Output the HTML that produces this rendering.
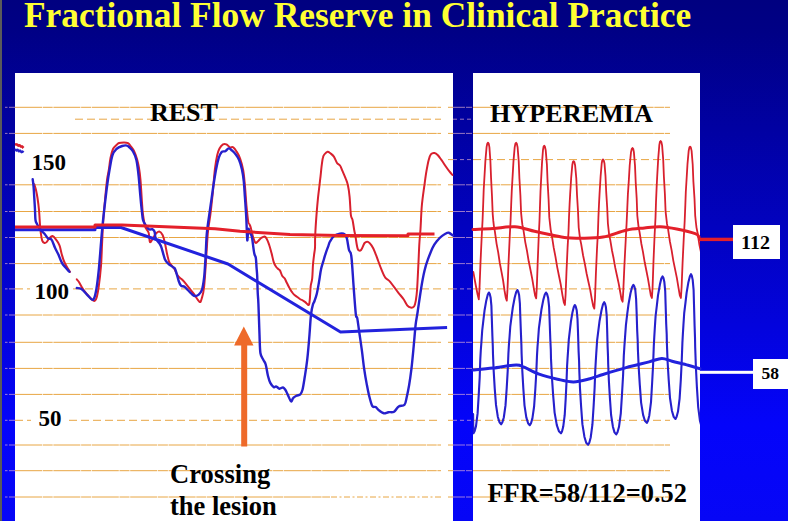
<!DOCTYPE html>
<html><head><meta charset="utf-8"><title>Fractional Flow Reserve in Clinical Practice</title>
<style>
html,body{margin:0;padding:0}
body{width:788px;height:521px;overflow:hidden;position:relative;
background:linear-gradient(to bottom,#000080 0px,#000085 30px,#0404fa 425px,#0606f6 521px);
font-family:"Liberation Serif","Times New Roman",serif;}
.strip{position:absolute;left:0;top:0;width:2px;height:521px;background:#5a5a5a}
h1{position:absolute;left:24px;top:-6px;margin:0;font-size:36px;font-weight:bold;color:#ffff33;white-space:nowrap;letter-spacing:0;transform:scaleX(0.983);transform-origin:0 0}
.panel{position:absolute;top:73px;background:#fff}
#pl{left:15px;width:438px;height:448px}
#pr{left:473px;width:227px;height:448px}
svg{position:absolute;left:0;top:0}
.t{position:absolute;font-weight:bold;color:#000;white-space:nowrap;line-height:1}
.box{position:absolute;background:#fff}
</style></head><body>
<div class="strip"></div>
<h1>Fractional Flow Reserve in Clinical Practice</h1>
<div class="panel" id="pl"></div>
<div class="panel" id="pr"></div>
<div class="box" style="left:733px;top:225px;width:47px;height:33.5px"></div>
<div class="box" style="left:753px;top:358.5px;width:35px;height:30.2px"></div>
<svg width="788" height="521" viewBox="0 0 788 521"><defs><clipPath id="cr"><rect x="473" y="73" width="227" height="448"/></clipPath></defs>
<line x1="5" y1="107.3" x2="15" y2="107.3" stroke="rgba(255,200,210,0.6)" stroke-width="1" stroke-dasharray="2.5 1.5 7"/>
<line x1="15" y1="107.3" x2="441" y2="107.3" stroke="#e8a644" stroke-width="1" stroke-dasharray="27 0.7 10 0.7"/>
<line x1="448" y1="107.3" x2="453" y2="107.3" stroke="#e8a644" stroke-width="1"/>
<line x1="453" y1="107.3" x2="473" y2="107.3" stroke="rgba(255,200,210,0.6)" stroke-width="1" stroke-dasharray="12 1 6 1"/>
<line x1="473" y1="107.3" x2="670" y2="107.3" stroke="#e8a644" stroke-width="1" stroke-dasharray="27 0.7 10 0.7"/>
<line x1="5" y1="133.4" x2="15" y2="133.4" stroke="rgba(255,200,210,0.6)" stroke-width="1" stroke-dasharray="2.5 1.5 7"/>
<line x1="15" y1="133.4" x2="441" y2="133.4" stroke="#e8a644" stroke-width="1" stroke-dasharray="27 0.7 10 0.7"/>
<line x1="448" y1="133.4" x2="453" y2="133.4" stroke="#e8a644" stroke-width="1"/>
<line x1="453" y1="133.4" x2="473" y2="133.4" stroke="rgba(255,200,210,0.6)" stroke-width="1" stroke-dasharray="12 1 6 1"/>
<line x1="473" y1="133.4" x2="670" y2="133.4" stroke="#e8a644" stroke-width="1" stroke-dasharray="27 0.7 10 0.7"/>
<line x1="448" y1="159.6" x2="453" y2="159.6" stroke="#e8a644" stroke-width="1"/>
<line x1="453" y1="159.6" x2="473" y2="159.6" stroke="rgba(255,200,210,0.6)" stroke-width="1" stroke-dasharray="4 3"/>
<line x1="473" y1="159.6" x2="670" y2="159.6" stroke="#e8a644" stroke-width="1" stroke-dasharray="8 4"/>
<line x1="5" y1="184.8" x2="15" y2="184.8" stroke="rgba(255,200,210,0.6)" stroke-width="1" stroke-dasharray="2.5 1.5 7"/>
<line x1="15" y1="184.8" x2="441" y2="184.8" stroke="#e8a644" stroke-width="1" stroke-dasharray="27 0.7 10 0.7"/>
<line x1="448" y1="184.8" x2="453" y2="184.8" stroke="#e8a644" stroke-width="1"/>
<line x1="453" y1="184.8" x2="473" y2="184.8" stroke="rgba(255,200,210,0.6)" stroke-width="1" stroke-dasharray="12 1 6 1"/>
<line x1="473" y1="184.8" x2="670" y2="184.8" stroke="#e8a644" stroke-width="1" stroke-dasharray="27 0.7 10 0.7"/>
<line x1="5" y1="211.5" x2="15" y2="211.5" stroke="rgba(255,200,210,0.6)" stroke-width="1" stroke-dasharray="2.5 1.5 7"/>
<line x1="15" y1="211.5" x2="441" y2="211.5" stroke="#e8a644" stroke-width="1" stroke-dasharray="27 0.7 10 0.7"/>
<line x1="448" y1="211.5" x2="453" y2="211.5" stroke="#e8a644" stroke-width="1"/>
<line x1="453" y1="211.5" x2="473" y2="211.5" stroke="rgba(255,200,210,0.6)" stroke-width="1" stroke-dasharray="12 1 6 1"/>
<line x1="473" y1="211.5" x2="670" y2="211.5" stroke="#e8a644" stroke-width="1" stroke-dasharray="27 0.7 10 0.7"/>
<line x1="5" y1="237.5" x2="15" y2="237.5" stroke="rgba(255,200,210,0.6)" stroke-width="1" stroke-dasharray="2.5 1.5 7"/>
<line x1="15" y1="237.5" x2="441" y2="237.5" stroke="#e8a644" stroke-width="1" stroke-dasharray="27 0.7 10 0.7"/>
<line x1="448" y1="237.5" x2="453" y2="237.5" stroke="#e8a644" stroke-width="1"/>
<line x1="453" y1="237.5" x2="473" y2="237.5" stroke="rgba(255,200,210,0.6)" stroke-width="1" stroke-dasharray="12 1 6 1"/>
<line x1="473" y1="237.5" x2="670" y2="237.5" stroke="#e8a644" stroke-width="1" stroke-dasharray="27 0.7 10 0.7"/>
<line x1="5" y1="263.6" x2="15" y2="263.6" stroke="rgba(255,200,210,0.6)" stroke-width="1" stroke-dasharray="2.5 1.5 7"/>
<line x1="15" y1="263.6" x2="441" y2="263.6" stroke="#e8a644" stroke-width="1" stroke-dasharray="27 0.7 10 0.7"/>
<line x1="448" y1="263.6" x2="453" y2="263.6" stroke="#e8a644" stroke-width="1"/>
<line x1="453" y1="263.6" x2="473" y2="263.6" stroke="rgba(255,200,210,0.6)" stroke-width="1" stroke-dasharray="12 1 6 1"/>
<line x1="473" y1="263.6" x2="670" y2="263.6" stroke="#e8a644" stroke-width="1" stroke-dasharray="27 0.7 10 0.7"/>
<line x1="5" y1="288.9" x2="15" y2="288.9" stroke="rgba(255,200,210,0.6)" stroke-width="1" stroke-dasharray="2.5 1.5 7"/>
<line x1="15" y1="288.9" x2="30" y2="288.9" stroke="#e8a644" stroke-width="1" stroke-dasharray="8 4"/>
<line x1="73" y1="288.9" x2="441" y2="288.9" stroke="#e8a644" stroke-width="1" stroke-dasharray="8 4"/>
<line x1="448" y1="288.9" x2="453" y2="288.9" stroke="#e8a644" stroke-width="1"/>
<line x1="453" y1="288.9" x2="473" y2="288.9" stroke="rgba(255,200,210,0.6)" stroke-width="1" stroke-dasharray="4 3"/>
<line x1="473" y1="288.9" x2="670" y2="288.9" stroke="#e8a644" stroke-width="1" stroke-dasharray="8 4"/>
<line x1="5" y1="315.0" x2="15" y2="315.0" stroke="rgba(255,200,210,0.6)" stroke-width="1" stroke-dasharray="2.5 1.5 7"/>
<line x1="15" y1="315.0" x2="441" y2="315.0" stroke="#e8a644" stroke-width="1" stroke-dasharray="27 0.7 10 0.7"/>
<line x1="448" y1="315.0" x2="453" y2="315.0" stroke="#e8a644" stroke-width="1"/>
<line x1="453" y1="315.0" x2="473" y2="315.0" stroke="rgba(255,200,210,0.6)" stroke-width="1" stroke-dasharray="12 1 6 1"/>
<line x1="473" y1="315.0" x2="670" y2="315.0" stroke="#e8a644" stroke-width="1" stroke-dasharray="27 0.7 10 0.7"/>
<line x1="5" y1="342.3" x2="15" y2="342.3" stroke="rgba(255,200,210,0.6)" stroke-width="1" stroke-dasharray="2.5 1.5 7"/>
<line x1="15" y1="342.3" x2="441" y2="342.3" stroke="#e8a644" stroke-width="1" stroke-dasharray="27 0.7 10 0.7"/>
<line x1="448" y1="342.3" x2="453" y2="342.3" stroke="#e8a644" stroke-width="1"/>
<line x1="453" y1="342.3" x2="473" y2="342.3" stroke="rgba(255,200,210,0.6)" stroke-width="1" stroke-dasharray="12 1 6 1"/>
<line x1="473" y1="342.3" x2="670" y2="342.3" stroke="#e8a644" stroke-width="1" stroke-dasharray="27 0.7 10 0.7"/>
<line x1="5" y1="368.4" x2="15" y2="368.4" stroke="rgba(255,200,210,0.6)" stroke-width="1" stroke-dasharray="2.5 1.5 7"/>
<line x1="15" y1="368.4" x2="441" y2="368.4" stroke="#e8a644" stroke-width="1" stroke-dasharray="27 0.7 10 0.7"/>
<line x1="448" y1="368.4" x2="453" y2="368.4" stroke="#e8a644" stroke-width="1"/>
<line x1="453" y1="368.4" x2="473" y2="368.4" stroke="rgba(255,200,210,0.6)" stroke-width="1" stroke-dasharray="12 1 6 1"/>
<line x1="473" y1="368.4" x2="670" y2="368.4" stroke="#e8a644" stroke-width="1" stroke-dasharray="27 0.7 10 0.7"/>
<line x1="5" y1="394.4" x2="15" y2="394.4" stroke="rgba(255,200,210,0.6)" stroke-width="1" stroke-dasharray="2.5 1.5 7"/>
<line x1="15" y1="394.4" x2="441" y2="394.4" stroke="#e8a644" stroke-width="1" stroke-dasharray="27 0.7 10 0.7"/>
<line x1="448" y1="394.4" x2="453" y2="394.4" stroke="#e8a644" stroke-width="1"/>
<line x1="453" y1="394.4" x2="473" y2="394.4" stroke="rgba(255,200,210,0.6)" stroke-width="1" stroke-dasharray="12 1 6 1"/>
<line x1="473" y1="394.4" x2="670" y2="394.4" stroke="#e8a644" stroke-width="1" stroke-dasharray="27 0.7 10 0.7"/>
<line x1="5" y1="420.3" x2="15" y2="420.3" stroke="rgba(255,200,210,0.6)" stroke-width="1" stroke-dasharray="2.5 1.5 7"/>
<line x1="15" y1="420.3" x2="31" y2="420.3" stroke="#e8a644" stroke-width="1" stroke-dasharray="8 4"/>
<line x1="69" y1="420.3" x2="441" y2="420.3" stroke="#e8a644" stroke-width="1" stroke-dasharray="8 4"/>
<line x1="448" y1="420.3" x2="453" y2="420.3" stroke="#e8a644" stroke-width="1"/>
<line x1="453" y1="420.3" x2="473" y2="420.3" stroke="rgba(255,200,210,0.6)" stroke-width="1" stroke-dasharray="4 3"/>
<line x1="473" y1="420.3" x2="670" y2="420.3" stroke="#e8a644" stroke-width="1" stroke-dasharray="8 4"/>
<line x1="5" y1="445.0" x2="15" y2="445.0" stroke="rgba(255,200,210,0.6)" stroke-width="1" stroke-dasharray="2.5 1.5 7"/>
<line x1="15" y1="445.0" x2="441" y2="445.0" stroke="#e8a644" stroke-width="1" stroke-dasharray="27 0.7 10 0.7"/>
<line x1="448" y1="445.0" x2="453" y2="445.0" stroke="#e8a644" stroke-width="1"/>
<line x1="453" y1="445.0" x2="473" y2="445.0" stroke="rgba(255,200,210,0.6)" stroke-width="1" stroke-dasharray="12 1 6 1"/>
<line x1="473" y1="445.0" x2="670" y2="445.0" stroke="#e8a644" stroke-width="1" stroke-dasharray="27 0.7 10 0.7"/>
<line x1="5" y1="470.7" x2="15" y2="470.7" stroke="rgba(255,200,210,0.6)" stroke-width="1" stroke-dasharray="2.5 1.5 7"/>
<line x1="15" y1="470.7" x2="441" y2="470.7" stroke="#e8a644" stroke-width="1" stroke-dasharray="27 0.7 10 0.7"/>
<line x1="448" y1="470.7" x2="453" y2="470.7" stroke="#e8a644" stroke-width="1"/>
<line x1="453" y1="470.7" x2="473" y2="470.7" stroke="rgba(255,200,210,0.6)" stroke-width="1" stroke-dasharray="12 1 6 1"/>
<line x1="473" y1="470.7" x2="670" y2="470.7" stroke="#e8a644" stroke-width="1" stroke-dasharray="27 0.7 10 0.7"/>
<line x1="5" y1="497.0" x2="15" y2="497.0" stroke="rgba(255,200,210,0.6)" stroke-width="1" stroke-dasharray="2.5 1.5 7"/>
<line x1="15" y1="497.0" x2="330" y2="497.0" stroke="#e8a644" stroke-width="1" stroke-dasharray="27 0.7 10 0.7"/>
<line x1="331" y1="497.0" x2="441" y2="497.0" stroke="#e8a644" stroke-width="1" stroke-dasharray="6 2.5 2 2.5"/>
<line x1="448" y1="497.0" x2="453" y2="497.0" stroke="#e8a644" stroke-width="1"/>
<line x1="453" y1="497.0" x2="473" y2="497.0" stroke="rgba(255,200,210,0.6)" stroke-width="1" stroke-dasharray="12 1 6 1"/>
<line x1="473" y1="497.0" x2="670" y2="497.0" stroke="#e8a644" stroke-width="1" stroke-dasharray="27 0.7 10 0.7"/>
<line x1="75" y1="119.2" x2="441" y2="119.2" stroke="#e8a644" stroke-width="1" stroke-dasharray="8 4"/>
<line x1="453" y1="119.2" x2="473" y2="119.2" stroke="rgba(255,200,210,0.6)" stroke-width="1" stroke-dasharray="4 3"/>
<polyline points="15.0,144.2 17.0,144.6 18.5,145.6 19.5,145.2 21.0,146.6 22.0,146.4 23.5,148.0" fill="none" stroke="#d8202e" stroke-width="2.6" stroke-linejoin="round" stroke-linecap="butt"/>
<polyline points="15.0,149.2 16.5,150.6 17.5,149.6 19.0,151.4 20.0,150.5 21.5,152.2 22.5,151.4 23.5,152.6" fill="none" stroke="#2620cc" stroke-width="2.3" stroke-linejoin="round" stroke-linecap="butt"/>
<path d="M34.3,184.2 C34.6,185.2 35.5,187.7 36.0,190.0 C36.5,192.3 37.0,194.7 37.5,198.0 C38.0,201.3 38.6,205.5 39.0,210.0 C39.4,214.5 39.7,221.2 40.0,225.0 C40.3,228.8 40.4,230.4 40.8,233.0 C41.2,235.6 41.6,239.0 42.2,240.7 C42.8,242.4 43.7,242.8 44.5,243.0 C45.3,243.2 46.0,242.7 46.8,241.9 C47.6,241.1 48.2,239.4 49.2,238.4 C50.2,237.4 51.5,235.9 52.6,236.1 C53.7,236.3 54.9,238.1 56.0,239.6 C57.1,241.1 58.5,242.8 59.5,245.3 C60.5,247.8 61.0,251.8 61.8,254.5 C62.6,257.2 63.3,259.6 64.1,261.5 C64.9,263.4 65.4,264.3 66.4,266.0 C67.4,267.7 69.3,270.8 69.9,271.8" fill="none" stroke="#d8202e" stroke-width="2" stroke-linejoin="round" stroke-linecap="round"/>
<path d="M76.8,279.4 C77.2,279.9 77.9,280.4 79.1,282.2 C80.2,284.0 81.8,287.5 83.7,290.2 C85.6,292.9 88.9,296.5 90.6,298.3 C92.3,300.1 93.1,301.0 94.1,301.0 C95.1,301.0 95.6,300.7 96.4,298.3 C97.2,295.9 97.9,292.2 98.7,286.8 C99.5,281.4 100.4,273.3 101.0,266.0 C101.6,258.7 101.7,250.7 102.1,243.0 C102.5,235.3 102.8,227.2 103.3,220.0 C103.8,212.8 104.4,206.7 105.0,200.0 C105.6,193.3 106.4,185.0 107.0,180.0 C107.6,175.0 108.2,173.7 108.8,170.0 C109.4,166.3 109.8,161.5 110.5,158.0 C111.2,154.5 112.1,151.1 113.0,149.0 C113.9,146.9 115.0,146.5 116.0,145.5 C117.0,144.5 117.7,143.5 119.0,143.0 C120.3,142.5 122.5,142.4 124.0,142.4 C125.5,142.4 126.8,142.5 128.0,143.2 C129.2,143.9 130.0,145.2 131.0,146.5 C132.0,147.8 133.0,148.9 134.0,151.0 C135.0,153.1 136.2,156.2 137.0,159.0 C137.8,161.8 138.4,164.5 139.0,168.0 C139.6,171.5 140.1,175.5 140.5,180.0 C140.9,184.5 141.2,190.0 141.5,195.0 C141.8,200.0 142.2,206.2 142.5,210.0 C142.8,213.8 143.1,215.2 143.5,218.0 C143.9,220.8 144.7,224.8 145.2,226.7 C145.7,228.6 145.9,228.1 146.5,229.2 C147.1,230.2 148.1,230.9 148.7,233.0 C149.3,235.1 149.3,240.8 149.9,241.9 C150.5,243.0 151.2,240.9 152.2,239.6 C153.2,238.2 154.5,235.2 155.7,233.8 C156.9,232.5 158.0,231.3 159.2,231.5 C160.3,231.7 161.6,233.1 162.6,235.0 C163.6,236.9 164.1,239.8 164.9,243.0 C165.7,246.2 166.4,251.2 167.2,254.5 C168.0,257.8 168.3,260.3 169.5,262.6 C170.7,264.9 172.8,266.3 174.1,268.4 C175.4,270.5 176.4,273.6 177.6,275.3 C178.8,277.0 179.8,277.6 181.0,278.7 C182.2,279.8 183.2,280.7 184.5,282.2 C185.8,283.7 187.6,286.0 189.1,287.9 C190.6,289.8 192.0,291.4 193.7,293.7 C195.4,296.0 198.2,301.0 199.5,301.8 C200.8,302.6 201.0,300.8 201.8,298.3 C202.6,295.8 203.3,294.1 204.1,286.8 C204.9,279.5 205.8,263.8 206.4,254.5 C207.1,245.2 207.3,237.9 208.0,231.3 C208.7,224.8 209.5,221.3 210.3,215.2 C211.1,209.1 211.8,202.2 212.6,194.5 C213.4,186.8 214.1,175.7 214.9,169.2 C215.7,162.7 216.4,158.8 217.2,155.3 C218.0,151.8 218.5,150.2 219.5,148.4 C220.5,146.6 221.8,145.0 223.0,144.3 C224.2,143.6 225.2,143.8 226.4,144.3 C227.6,144.8 228.8,146.8 229.9,147.3 C231.1,147.8 232.2,146.5 233.3,147.3 C234.5,148.1 235.7,150.0 236.8,151.9 C238.0,153.8 239.1,155.7 240.2,158.8 C241.3,161.9 242.4,165.9 243.2,170.3 C244.0,174.7 244.3,179.4 244.9,185.3 C245.5,191.2 245.9,199.9 246.5,206.0 C247.1,212.1 247.8,219.0 248.3,222.1 C248.8,225.2 249.1,223.5 249.5,224.4 C249.9,225.3 250.2,225.6 250.8,227.7 C251.4,229.8 252.3,234.5 253.1,237.0 C253.9,239.5 254.6,241.9 255.4,242.7 C256.2,243.4 256.7,242.3 257.7,241.5 C258.7,240.7 260.0,238.8 261.2,238.0 C262.4,237.2 263.7,236.3 264.6,236.5 C265.6,236.7 266.1,237.8 266.9,239.2 C267.7,240.6 268.4,242.7 269.2,245.0 C270.0,247.3 270.7,250.1 271.5,253.0 C272.3,255.9 273.0,260.0 273.8,262.3 C274.6,264.6 275.4,265.9 276.2,267.0 C277.0,268.1 277.9,268.6 278.5,269.2 C279.1,269.8 279.4,269.4 280.0,270.5 C280.6,271.6 281.5,274.7 282.3,276.0 C283.1,277.3 283.8,277.1 284.6,278.3 C285.4,279.5 286.1,281.5 286.9,283.0 C287.7,284.5 288.4,286.1 289.2,287.5 C290.0,288.9 290.7,290.2 291.5,291.4 C292.3,292.5 292.9,293.5 293.8,294.4 C294.7,295.3 295.9,295.9 296.9,296.7 C297.9,297.5 298.9,298.4 299.9,299.0 C300.9,299.6 302.1,300.1 303.0,300.6 C303.9,301.1 304.5,301.5 305.3,302.1 C306.1,302.7 307.0,304.0 307.6,304.4 C308.2,304.8 308.7,305.4 309.1,304.4 C309.5,303.4 309.6,301.4 309.9,298.3 C310.2,295.2 310.3,289.3 310.7,286.0 C311.1,282.7 311.8,281.9 312.2,278.3 C312.6,274.7 312.7,268.3 313.0,264.5 C313.3,260.7 313.7,258.1 314.0,255.3 C314.3,252.5 314.8,250.9 315.0,247.7 C315.2,244.5 314.9,241.5 315.2,236.0 C315.4,230.5 316.0,221.2 316.5,214.8 C317.0,208.5 317.5,202.8 318.0,197.9 C318.5,193.0 319.1,188.7 319.5,185.2 C319.9,181.7 320.1,179.9 320.5,176.7 C320.9,173.5 321.2,169.4 321.6,166.2 C322.0,163.0 322.4,159.6 322.9,157.7 C323.3,155.8 323.5,155.5 324.3,154.5 C325.1,153.5 326.4,152.0 327.5,151.8 C328.6,151.6 329.6,152.7 330.7,153.5 C331.8,154.3 332.8,155.0 333.9,156.6 C334.9,158.2 336.0,161.5 337.0,163.0 C338.0,164.5 339.1,164.3 340.0,165.5 C340.9,166.7 341.3,168.2 342.2,170.3 C343.1,172.5 344.7,175.9 345.6,178.4 C346.6,180.9 347.2,182.2 347.9,185.3 C348.6,188.4 349.1,191.8 349.6,196.8 C350.1,201.8 350.4,211.4 350.9,215.2 C351.4,219.0 351.9,217.3 352.5,219.8 C353.1,222.3 353.7,227.3 354.2,230.0 C354.7,232.7 354.8,232.9 355.4,236.0 C356.0,239.1 356.8,246.5 357.7,248.8 C358.6,251.1 360.0,251.0 361.1,250.0 C362.2,249.0 363.5,244.3 364.6,243.0 C365.8,241.7 366.9,241.5 368.0,241.9 C369.1,242.3 370.3,243.7 371.5,245.4 C372.7,247.1 373.9,249.6 375.0,252.3 C376.1,255.0 377.2,258.4 378.4,261.5 C379.5,264.6 380.8,268.0 381.9,270.7 C383.0,273.4 384.1,276.0 385.3,277.6 C386.5,279.2 387.7,279.2 388.8,280.4 C389.9,281.5 391.1,283.0 392.2,284.5 C393.3,286.0 394.5,287.6 395.7,289.2 C396.9,290.8 397.8,292.1 399.2,293.8 C400.6,295.5 402.5,297.6 403.8,299.5 C405.1,301.4 406.1,303.9 407.2,305.3 C408.3,306.7 409.5,307.4 410.7,307.6 C411.9,307.8 413.2,307.5 414.1,306.4 C415.0,305.2 415.3,303.6 415.8,300.7 C416.3,297.8 416.7,295.0 417.1,289.2 C417.5,283.4 417.9,273.8 418.3,266.1 C418.7,258.4 419.0,249.2 419.4,243.0 C419.8,236.8 420.1,235.2 420.5,229.0 C420.9,222.8 421.2,212.9 421.8,206.0 C422.4,199.1 423.3,193.3 424.1,187.5 C424.9,181.7 425.6,176.0 426.4,171.4 C427.2,166.8 427.9,162.8 428.7,159.9 C429.5,157.0 430.0,155.3 431.0,154.2 C432.0,153.0 433.4,152.8 434.5,153.0 C435.6,153.2 436.8,154.2 437.9,155.3 C439.0,156.5 440.0,158.0 441.4,159.9 C442.8,161.8 444.7,164.9 446.0,166.8 C447.3,168.7 448.3,170.1 449.4,171.4 C450.5,172.8 451.9,174.3 452.4,174.9" fill="none" stroke="#d8202e" stroke-width="2" stroke-linejoin="round" stroke-linecap="round"/>
<path d="M32.7,179.3 C32.8,180.4 33.3,183.7 33.5,186.0 C33.7,188.3 33.8,189.0 34.0,193.0 C34.2,197.0 34.8,205.5 35.0,210.0 C35.2,214.5 35.2,217.7 35.5,220.0 C35.8,222.3 36.2,222.5 37.0,224.0 C37.8,225.5 38.8,227.6 40.0,229.2 C41.2,230.8 43.2,232.3 44.5,233.8 C45.8,235.3 46.8,237.4 48.0,238.4 C49.2,239.4 50.4,238.1 51.5,239.6 C52.6,241.1 53.8,245.1 54.9,247.6 C56.0,250.1 57.2,252.0 58.4,254.5 C59.5,257.0 60.6,260.5 61.8,262.6 C62.9,264.7 64.0,265.7 65.3,267.2 C66.6,268.7 68.7,271.0 69.4,271.8" fill="none" stroke="#2620cc" stroke-width="2.4" stroke-linejoin="round" stroke-linecap="round"/>
<path d="M76.8,288.0 C77.6,288.2 79.7,287.9 81.4,289.0 C83.1,290.1 85.5,293.1 87.2,294.9 C88.9,296.6 90.7,298.9 91.8,299.5 C92.9,300.1 93.3,300.1 94.1,298.3 C94.9,296.6 95.6,293.6 96.4,289.0 C97.2,284.4 97.9,278.4 98.7,270.7 C99.5,263.0 100.4,249.8 101.0,243.0 C101.6,236.2 101.6,235.5 102.1,230.0 C102.6,224.5 103.3,217.5 104.2,210.0 C105.1,202.5 106.3,191.7 107.2,185.0 C108.1,178.3 108.6,175.0 109.5,170.0 C110.4,165.0 111.3,158.5 112.5,155.0 C113.7,151.5 114.8,150.5 116.4,149.0 C118.0,147.5 120.4,146.6 122.2,146.0 C124.0,145.4 125.8,145.3 127.0,145.6 C128.2,145.8 128.5,146.5 129.5,147.5 C130.5,148.5 131.8,149.4 133.0,151.5 C134.2,153.6 135.5,155.9 136.4,160.0 C137.3,164.1 138.0,170.2 138.6,176.0 C139.2,181.8 139.7,188.7 140.2,194.5 C140.7,200.3 141.3,206.3 141.8,210.6 C142.3,214.8 142.4,217.7 143.0,220.0 C143.6,222.3 144.3,223.1 145.3,224.6 C146.3,226.1 147.7,228.4 148.8,229.2 C150.0,230.0 151.2,228.8 152.2,229.2 C153.1,229.6 153.9,230.0 154.5,231.5 C155.1,233.0 154.9,236.5 155.7,238.4 C156.5,240.3 158.2,241.5 159.2,243.0 C160.2,244.5 160.6,244.9 161.5,247.6 C162.4,250.3 163.8,256.5 164.9,259.2 C166.1,261.9 167.1,262.5 168.4,263.8 C169.8,265.1 171.8,266.2 173.0,267.2 C174.2,268.1 174.4,267.2 175.3,269.5 C176.2,271.8 177.8,278.3 178.7,281.0 C179.6,283.7 180.0,284.6 181.0,285.6 C182.0,286.6 183.3,286.0 184.5,286.8 C185.7,287.6 186.8,289.1 187.9,290.2 C189.1,291.3 190.2,292.7 191.4,293.7 C192.6,294.7 193.7,295.8 194.8,296.0 C196.0,296.2 197.1,295.9 198.3,294.9 C199.5,293.9 200.8,293.1 201.8,290.2 C202.8,287.3 203.4,283.6 204.1,277.6 C204.8,271.7 205.2,261.8 205.7,254.5 C206.1,247.2 206.2,240.2 206.8,233.6 C207.4,227.0 208.4,220.9 209.2,215.2 C210.0,209.4 210.7,204.5 211.5,199.1 C212.3,193.7 213.0,188.0 213.8,183.0 C214.6,178.0 215.3,173.4 216.1,169.2 C216.9,165.0 217.9,160.5 218.8,157.6 C219.8,154.7 220.7,153.0 221.8,151.9 C222.9,150.8 224.2,151.8 225.3,151.2 C226.5,150.6 227.5,148.5 228.7,148.4 C229.8,148.3 231.0,149.7 232.2,150.7 C233.3,151.7 234.4,152.7 235.6,154.2 C236.8,155.7 238.0,157.4 239.1,159.9 C240.2,162.4 241.1,165.7 241.9,169.2 C242.7,172.7 243.2,176.1 243.7,180.7 C244.2,185.3 244.5,191.4 244.9,196.8 C245.3,202.2 245.7,208.1 246.0,212.9 C246.3,217.7 246.4,220.8 246.6,225.4 C246.8,230.0 247.0,239.8 247.3,240.4 C247.6,241.0 247.9,230.2 248.3,229.0 C248.8,227.8 249.4,231.7 250.0,233.0 C250.6,234.3 251.2,233.7 251.9,237.0 C252.6,240.3 253.5,249.6 254.2,253.0 C254.8,256.4 255.4,255.4 255.8,257.7 C256.2,260.0 256.3,263.9 256.5,267.0 C256.7,270.1 257.0,271.8 257.2,276.0 C257.4,280.2 257.5,287.7 257.7,292.3 C257.9,296.9 258.1,296.8 258.4,303.8 C258.7,310.8 259.2,326.3 259.5,334.5 C259.8,342.7 259.8,348.8 260.4,353.0 C261.0,357.2 262.5,358.0 263.4,359.9 C264.3,361.8 264.9,361.8 265.7,364.5 C266.5,367.2 267.2,372.9 268.0,376.0 C268.8,379.1 269.3,381.0 270.3,382.9 C271.3,384.8 272.8,386.5 273.8,387.1 C274.8,387.7 275.2,386.1 276.1,386.4 C277.1,386.7 278.4,388.5 279.5,388.7 C280.6,388.9 282.0,387.3 283.0,387.5 C284.0,387.7 284.5,388.7 285.3,389.8 C286.1,390.9 286.7,392.5 287.6,394.4 C288.6,396.3 290.1,400.7 291.0,401.3 C291.9,401.9 292.3,398.8 293.3,397.9 C294.3,396.9 295.7,396.2 296.8,395.6 C297.9,395.0 299.2,395.4 300.2,394.4 C301.1,393.4 301.7,392.9 302.5,389.8 C303.3,386.7 304.1,381.0 304.9,376.0 C305.7,371.0 306.4,366.8 307.2,359.9 C308.0,353.0 308.9,342.2 309.5,334.5 C310.1,326.8 310.5,318.8 311.1,313.8 C311.7,308.8 312.3,306.7 312.9,304.6 C313.5,302.5 313.9,302.8 314.5,301.0 C315.1,299.2 316.0,297.0 316.8,293.7 C317.6,290.4 318.4,285.5 319.1,281.4 C319.8,277.3 320.3,272.7 321.1,269.1 C321.9,265.5 322.9,262.8 323.7,260.0 C324.5,257.2 325.2,254.6 326.0,252.3 C326.8,250.0 327.6,247.9 328.3,246.1 C329.0,244.3 329.0,243.2 330.0,241.5 C331.0,239.8 332.5,237.2 334.1,235.9 C335.8,234.6 338.2,233.9 339.9,233.6 C341.6,233.3 343.4,233.3 344.5,234.1 C345.6,234.9 346.1,235.5 346.8,238.2 C347.6,240.8 348.2,247.0 349.0,250.0 C349.8,253.0 350.6,250.2 351.3,256.0 C352.1,261.8 352.8,275.3 353.5,285.0 C354.2,294.7 355.2,308.6 355.8,314.2 C356.4,319.8 356.7,315.0 357.3,318.4 C357.9,321.8 358.8,329.1 359.6,334.5 C360.4,339.9 361.1,344.9 361.9,350.7 C362.7,356.5 363.4,363.7 364.2,369.1 C365.0,374.5 365.7,378.7 366.5,382.9 C367.3,387.1 367.9,390.6 368.8,394.4 C369.8,398.2 371.1,403.8 372.2,405.9 C373.3,408.0 374.5,406.3 375.7,407.1 C376.9,407.9 377.8,409.5 379.2,410.5 C380.6,411.5 382.3,413.0 383.8,413.3 C385.3,413.6 386.7,412.5 388.4,412.2 C390.1,411.9 392.4,412.7 394.1,411.7 C395.8,410.7 397.0,407.5 398.7,406.4 C400.4,405.2 403.1,406.4 404.5,404.8 C405.9,403.2 406.0,400.0 406.8,396.7 C407.6,393.4 408.3,389.8 409.1,385.2 C409.9,380.6 410.6,375.6 411.4,369.1 C412.2,362.6 413.0,353.5 413.7,346.1 C414.4,338.8 415.0,330.6 415.6,325.0 C416.2,319.4 416.7,318.2 417.6,312.2 C418.5,306.2 419.9,296.1 421.0,289.2 C422.1,282.3 423.3,275.7 424.5,270.7 C425.7,265.7 426.6,263.0 428.0,259.2 C429.4,255.4 431.1,250.8 432.6,247.7 C434.1,244.6 435.7,242.6 437.2,240.7 C438.7,238.8 440.4,237.2 441.8,236.1 C443.2,234.9 444.2,234.4 445.3,233.8 C446.4,233.2 447.6,232.5 448.7,232.7 C449.8,232.9 451.5,234.5 452.2,235.0 C452.9,235.5 452.9,235.4 453.0,235.5" fill="none" stroke="#2620cc" stroke-width="2.4" stroke-linejoin="round" stroke-linecap="round"/>
<g clip-path="url(#cr)"><polyline points="473.3,272.0 475.8,285.5 477.6,294.5 478.8,299.4 479.5,288.3 480.5,262.6 481.7,236.7 482.6,219.5 483.2,203.8 483.7,189.7 484.4,177.8 485.4,160.6 486.6,146.9 487.3,143.5 488.0,142.7 488.7,143.5 489.4,147.1 490.4,161.2 491.1,178.7 492.0,196.2 492.7,213.8 493.3,220.9 493.9,226.1 494.9,231.6 496.6,243.8 498.2,252.4 499.8,263.0 501.5,271.9 503.1,280.5 504.6,291.0 505.8,297.9 506.8,300.6 507.5,289.4 508.5,263.5 509.7,237.5 510.6,220.1 511.2,204.3 511.8,190.1 512.5,178.1 513.5,160.8 514.7,147.1 515.4,143.6 516.1,142.8 516.8,143.6 517.6,147.2 518.7,161.0 519.4,178.3 520.4,195.5 521.1,212.8 521.8,219.8 522.4,224.9 523.5,230.3 525.3,242.3 527.0,250.9 528.7,261.3 530.5,270.0 532.2,278.6 533.9,288.8 535.1,295.7 536.2,298.3 536.8,287.5 537.7,262.4 538.7,237.3 539.5,220.5 540.0,205.2 540.5,191.5 541.1,179.9 542.0,163.1 543.0,149.8 543.6,146.5 544.2,145.7 544.9,146.5 545.7,150.2 546.9,164.3 547.6,182.0 548.6,199.7 549.3,217.4 550.1,224.6 550.7,229.8 551.8,235.4 553.7,247.7 555.4,256.4 557.2,267.1 559.0,276.0 560.8,284.8 562.5,295.3 563.8,302.3 564.9,305.0 565.6,294.8 566.5,271.2 567.6,247.4 568.5,231.6 569.0,217.2 569.6,204.3 570.2,193.3 571.2,177.5 572.3,165.0 572.9,161.8 573.6,161.1 574.3,161.8 575.1,165.2 576.3,178.4 577.0,194.7 578.0,211.1 578.7,227.5 579.5,234.1 580.1,239.0 581.2,244.1 583.1,255.5 584.8,263.6 586.6,273.5 588.4,281.8 590.2,289.9 591.9,299.6 593.2,306.1 594.3,308.6 595.0,298.0 595.9,273.6 597.0,249.0 597.9,232.6 598.4,217.6 599.0,204.2 599.6,192.9 600.6,176.5 601.7,163.5 602.3,160.2 603.0,159.5 603.7,160.2 604.5,163.5 605.5,176.1 606.2,191.9 607.2,207.7 607.9,223.5 608.6,229.9 609.1,234.6 610.2,239.6 612.0,250.5 613.6,258.3 615.3,267.9 617.0,275.8 618.7,283.6 620.4,293.0 621.5,299.3 622.6,301.7 623.3,290.8 624.4,265.6 625.7,240.2 626.6,223.3 627.3,207.9 627.9,194.1 628.7,182.4 629.7,165.5 631.0,152.1 631.8,148.8 632.5,148.0 633.2,148.8 633.9,152.2 635.0,165.6 635.7,182.2 636.7,198.8 637.3,215.5 638.0,222.2 638.6,227.2 639.6,232.4 641.4,244.0 643.0,252.2 644.7,262.3 646.4,270.7 648.0,278.9 649.7,288.9 650.8,295.4 651.9,298.0 652.6,286.9 653.5,261.1 654.6,235.2 655.5,217.9 656.0,202.2 656.6,188.1 657.2,176.2 658.2,158.9 659.3,145.2 659.9,141.8 660.6,141.0 661.3,141.8 662.1,145.4 663.2,159.4 663.9,176.8 664.9,194.2 665.6,211.6 666.4,218.7 667.0,223.9 668.1,229.4 669.9,241.5 671.6,250.1 673.3,260.6 675.1,269.4 676.9,278.1 678.6,288.4 679.8,295.3 680.9,298.0 681.6,287.3 682.6,262.4 683.8,237.4 684.7,220.8 685.3,205.6 685.8,192.0 686.5,180.5 687.5,163.9 688.7,150.7 689.4,147.4 690.1,146.6 690.8,147.4 691.6,150.9 692.7,164.5 693.4,181.6 694.5,198.6 695.2,215.6 695.9,222.5 696.5,227.6 697.6,233.0 699.4,244.8 701.2,253.2 702.9,263.5 704.7,272.1 706.4,280.5 708.2,290.6 709.4,297.4 710.5,300.0" fill="none" stroke="#d8202e" stroke-width="1.8" stroke-linejoin="round" stroke-linecap="round"/>
<polyline points="473.1,414.0 473.3,428.0 473.5,433.3 474.6,431.2 476.0,426.1 477.6,413.4 478.7,395.4 479.7,377.4 480.3,359.2 480.8,350.2 481.4,342.3 482.2,330.5 483.4,320.1 484.5,310.8 486.3,300.4 487.8,294.6 488.9,292.5 489.7,293.8 490.6,297.4 491.4,305.8 491.8,318.1 492.4,336.3 492.8,346.0 493.0,354.4 493.7,371.3 494.7,388.1 496.0,404.9 497.8,416.7 499.5,422.3 501.2,424.3 502.4,422.3 503.8,417.5 505.5,405.4 506.7,388.2 507.7,371.0 508.4,353.7 508.9,345.1 509.5,337.5 510.3,326.3 511.6,316.3 512.8,307.5 514.7,297.5 516.2,292.0 517.4,290.0 518.2,291.4 519.1,295.0 519.9,303.7 520.3,316.2 521.0,334.9 521.4,344.9 521.6,353.5 522.3,370.8 523.3,388.0 524.5,405.3 526.3,417.4 528.1,423.2 529.8,425.2 531.0,423.2 532.4,418.4 534.1,406.5 535.3,389.5 536.3,372.5 537.0,355.4 537.5,346.9 538.1,339.5 538.9,328.3 540.2,318.5 541.4,309.8 543.3,299.9 544.8,294.5 546.0,292.5 547.0,293.9 548.1,297.7 549.1,306.7 549.6,319.8 550.3,339.2 550.8,349.7 551.0,358.7 551.9,376.7 553.1,394.6 554.6,412.6 556.8,425.1 558.9,431.2 561.0,433.3 562.0,431.4 563.2,426.8 564.7,415.2 565.7,398.8 566.5,382.4 567.1,365.8 567.6,357.6 568.1,350.4 568.8,339.6 569.9,330.1 570.9,321.7 572.5,312.2 573.8,306.9 574.8,305.0 575.7,306.4 576.7,310.2 577.5,319.1 578.0,332.1 578.6,351.4 579.1,361.8 579.3,370.7 580.0,388.6 581.1,406.4 582.4,424.2 584.4,436.7 586.2,442.7 588.1,444.8 589.3,442.7 590.7,437.5 592.4,424.7 593.6,406.4 594.6,388.2 595.3,369.8 595.8,360.7 596.3,352.7 597.1,340.7 598.4,330.1 599.6,320.7 601.5,310.2 603.0,304.3 604.2,302.2 605.0,303.5 605.9,307.1 606.7,315.6 607.1,327.8 607.6,346.1 608.0,355.9 608.2,364.3 608.9,381.3 609.9,398.0 611.1,415.0 612.9,426.7 614.5,432.4 616.2,434.4 617.5,432.2 619.0,426.8 620.8,413.3 622.0,394.2 623.1,375.0 623.8,355.8 624.4,346.2 625.0,337.8 625.9,325.3 627.2,314.2 628.5,304.3 630.5,293.3 632.1,287.1 633.4,284.9 634.3,286.3 635.3,290.0 636.1,298.8 636.6,311.7 637.2,330.7 637.7,340.9 637.9,349.8 638.7,367.4 639.8,384.9 641.1,402.6 643.1,414.9 644.9,420.8 646.8,422.9 648.0,420.7 649.3,415.4 651.0,402.2 652.1,383.5 653.1,364.7 653.8,345.8 654.3,336.5 654.8,328.3 655.6,316.0 656.9,305.1 658.0,295.4 659.9,284.6 661.3,278.6 662.5,276.4 663.4,277.8 664.3,281.7 665.2,290.8 665.6,304.1 666.2,323.7 666.7,334.3 666.9,343.4 667.6,361.7 668.7,379.8 670.0,398.0 671.9,410.7 673.7,416.9 675.5,419.0 676.6,416.8 678.0,411.6 679.6,398.6 680.8,380.0 681.7,361.5 682.4,342.8 682.9,333.5 683.4,325.4 684.2,313.2 685.5,302.5 686.6,292.9 688.4,282.2 689.9,276.3 691.0,274.1 691.8,275.7 692.7,279.9 693.6,289.8 694.0,304.3 694.6,325.9 695.0,337.4 695.2,347.4 695.9,367.3 696.9,387.1 698.2,407.1 700.0,421.0 701.8,427.7 703.5,430.0" fill="none" stroke="#2620cc" stroke-width="2.1" stroke-linejoin="round" stroke-linecap="round"/></g>
<polyline points="15.0,229.7 95.0,229.7 95.0,227.5 121.0,227.5 228.0,264.0 340.5,332.0 447.1,327.6" fill="none" stroke="#2222dd" stroke-width="3" stroke-linejoin="round" stroke-linecap="butt"/>
<polyline points="15.0,227.0 95.0,227.0 95.0,225.0 122.0,225.0 215.0,228.7 240.0,231.3 290.0,234.6 340.0,235.6 408.0,235.8 408.0,234.0 434.5,234.0" fill="none" stroke="#e4202a" stroke-width="3" stroke-linejoin="round" stroke-linecap="butt"/>
<path d="M473.0,229.5 C476.3,229.3 486.0,229.1 493.0,228.6 C500.0,228.1 508.0,226.2 514.9,226.7 C521.8,227.1 528.5,230.0 534.5,231.3 C540.5,232.7 545.2,233.7 550.6,234.8 C556.0,235.9 561.7,237.2 566.7,237.8 C571.7,238.4 574.5,238.3 580.5,238.2 C586.5,238.1 595.4,238.4 603.0,237.1 C610.6,235.8 619.2,231.7 626.1,230.2 C633.0,228.7 638.8,228.5 644.5,227.9 C650.2,227.3 655.2,226.5 660.6,226.7 C666.0,226.9 670.9,227.8 676.7,229.0 C682.5,230.2 691.5,232.3 695.2,233.6 C698.9,234.9 698.4,236.4 699.0,237.0" fill="none" stroke="#e4202a" stroke-width="3" stroke-linejoin="round" stroke-linecap="round"/>
<path d="M473.0,370.0 C476.3,369.7 485.8,369.0 493.0,368.1 C500.2,367.2 510.9,365.0 516.1,364.9 C521.3,364.8 520.3,365.7 524.1,367.2 C527.9,368.7 533.5,372.1 539.1,374.1 C544.7,376.1 551.8,377.9 557.5,379.2 C563.2,380.5 568.2,382.0 573.6,381.9 C579.0,381.8 585.1,379.9 590.0,378.7 C594.9,377.5 597.0,376.4 603.0,374.5 C609.0,372.6 618.4,369.7 626.1,367.6 C633.8,365.5 643.2,363.4 649.1,361.9 C655.0,360.4 658.0,358.5 661.8,358.4 C665.6,358.3 667.7,360.0 672.1,361.2 C676.5,362.4 683.6,364.0 688.2,365.3 C692.9,366.6 698.0,368.2 700.0,368.8" fill="none" stroke="#2222dd" stroke-width="3" stroke-linejoin="round" stroke-linecap="round"/>
<rect x="699" y="237.7" width="34" height="3.4" fill="#e4202a"/>
<rect x="699" y="370.8" width="54" height="3" fill="#ffffff"/>
<polygon points="243.8,326.5 253.5,345.6 247.2,345.6 247.2,446.6 241.2,446.6 241.2,345.6 234.1,345.6" fill="#ee6a2a"/>
</svg>
<div class="t" style="left:150px;top:100px;font-size:26px">REST</div>
<div class="t" style="left:490px;top:101px;font-size:26.2px">HYPEREMIA</div>
<div class="t" style="left:31.5px;top:151px;font-size:23px">150</div>
<div class="t" style="left:34.5px;top:280px;font-size:23px">100</div>
<div class="t" style="left:38.5px;top:407px;font-size:23px">50</div>
<div class="t" style="left:170px;top:459px;font-size:26.5px;line-height:31.5px"><span style="letter-spacing:0.1px">Crossing</span><br>the lesion</div>
<div class="t" style="left:487.5px;top:480px;font-size:26.4px">FFR=58/112=0.52</div>
<div class="t" style="left:740.5px;top:233.5px;font-size:18px;transform:scaleX(1.11);transform-origin:0 0">112</div>
<div class="t" style="left:761.5px;top:365px;font-size:17.5px">58</div>
</body></html>
